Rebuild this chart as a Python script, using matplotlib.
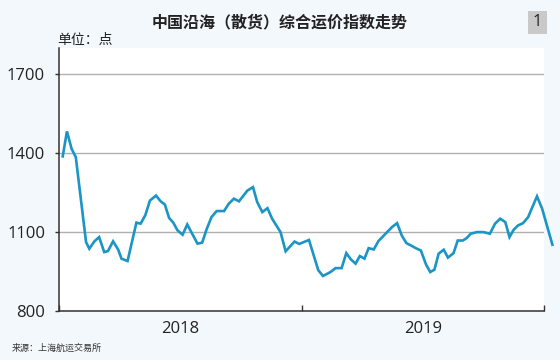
import matplotlib
matplotlib.use("Agg")
import matplotlib.pyplot as plt
from matplotlib.patches import Rectangle

plt.rcParams['font.family'] = ['Open Sans', 'Noto Sans CJK SC', 'DejaVu Sans']

# week index since start of 2018 and index value (points)
weeks = [0.8, 1.7, 2.7, 3.6, 5.8, 6.5, 7.6, 8.6, 9.7, 10.5, 11.6, 12.7, 13.4, 14.7,
         16.6, 17.5, 18.5, 19.5, 20.8, 21.8, 22.7, 23.6, 24.5, 25.4, 26.5, 27.5,
         29.7, 30.7, 31.7, 32.7, 33.8, 35.4, 36.4, 37.5, 38.6, 40.4, 41.6, 42.5,
         43.6, 44.7, 45.7, 47.5, 48.6, 50.5, 51.5, 53.6, 55.6, 56.6, 58.2, 59.3,
         60.6, 61.6, 62.6, 63.6, 64.5, 65.5, 66.4, 67.5, 68.5, 71.4, 72.5, 73.5,
         74.5, 75.7, 76.5, 77.6, 78.7, 79.6, 80.5, 81.4, 82.5, 83.4, 84.6, 85.5,
         86.6, 87.4, 88.3, 89.6, 91.0, 92.4, 93.5, 94.6, 95.7, 96.6, 97.5, 98.4,
         99.5, 100.6, 101.6, 102.5, 103.6, 105.8]
values = [1388, 1483, 1417, 1385, 1062, 1037, 1065, 1081, 1024, 1028, 1065, 1033, 999, 990,
          1136, 1132, 1164, 1220, 1239, 1217, 1205, 1154, 1136, 1107, 1090, 1129,
          1056, 1060, 1113, 1157, 1180, 1180, 1208, 1227, 1217, 1258, 1271, 1214,
          1176, 1191, 1151, 1100, 1027, 1064, 1055, 1070, 955, 933, 948, 963,
          963, 1020, 996, 980, 1009, 999, 1039, 1034, 1066, 1119, 1134, 1087,
          1058, 1047, 1039, 1030, 977, 948, 957, 1018, 1033, 1003, 1020, 1068,
          1068, 1077, 1094, 1100, 1100, 1094, 1132, 1151, 1138, 1081, 1109, 1125,
          1134, 1157, 1199, 1236, 1189, 1052]

years = ['2018', '2019']
year_bounds = [0, 52, 104]
year_centers = [26, 78]
yticks = [800, 1100, 1400, 1700]

title = '中国沿海（散货）综合运价指数走势'
unit = '单位：点'
source = '来源：上海航运交易所'
badge = '1'

bg = '#f3f8fc'
line_color = '#1b95c5'

fig = plt.figure(figsize=(5.6, 3.6), dpi=100, facecolor=bg)
ax = fig.add_axes([59/560, 1 - 311/360, (544 - 59)/560, (311 - 48)/360])
ax.set_facecolor('white')

ax.plot(weeks, values, color=line_color, lw=1.9, clip_on=False, zorder=3,
        solid_joinstyle='miter')

ax.set_xlim(0, 104)
ax.set_ylim(800, 1800)
ax.set_yticks(yticks)
ax.set_yticklabels([str(v) for v in yticks], fontsize=12, color='#222222')
ax.yaxis.grid(True, color='#b0b0b0', lw=1)
ax.set_axisbelow(True)

ax.set_xticks(year_bounds)
ax.set_xticklabels(['', '', ''])
ax.set_xticks(year_centers, minor=True)
ax.set_xticklabels(years, minor=True, fontsize=12, color='#222222')
ax.tick_params(axis='x', which='major', direction='in', length=4, width=1, color='#333333')
ax.tick_params(axis='x', which='minor', length=0, pad=7)
ax.tick_params(axis='y', direction='out', length=3, width=1, color='#333333', pad=7)

for s in ['top', 'right']:
    ax.spines[s].set_visible(False)
for s in ['left', 'bottom']:
    ax.spines[s].set_color('#333333')
    ax.spines[s].set_linewidth(1.1)

fig.text(280/560, 1 - 22/360, title, ha='center', va='center', fontsize=11.5,
         fontweight='bold', color='#222222', family=['Noto Sans CJK SC', 'DejaVu Sans'])
fig.text(57/560, 1 - 40/360, unit, ha='left', va='center', fontsize=10,
         color='#222222', family=['Noto Sans CJK SC', 'DejaVu Sans'])
fig.text(12/560, 1 - 348/360, source, ha='left', va='center', fontsize=6.5,
         color='#333333', family=['Noto Sans CJK SC', 'DejaVu Sans'])

fig.patches.append(Rectangle((528/560, 1 - 34/360), 19/560, 23/360,
                             transform=fig.transFigure, facecolor='#c9c9c9',
                             edgecolor='none'))
fig.text(537.5/560, 1 - 22.5/360, badge, ha='center', va='center', fontsize=12,
         color='#222222')

fig.savefig('out.png', dpi=100, facecolor=bg)
